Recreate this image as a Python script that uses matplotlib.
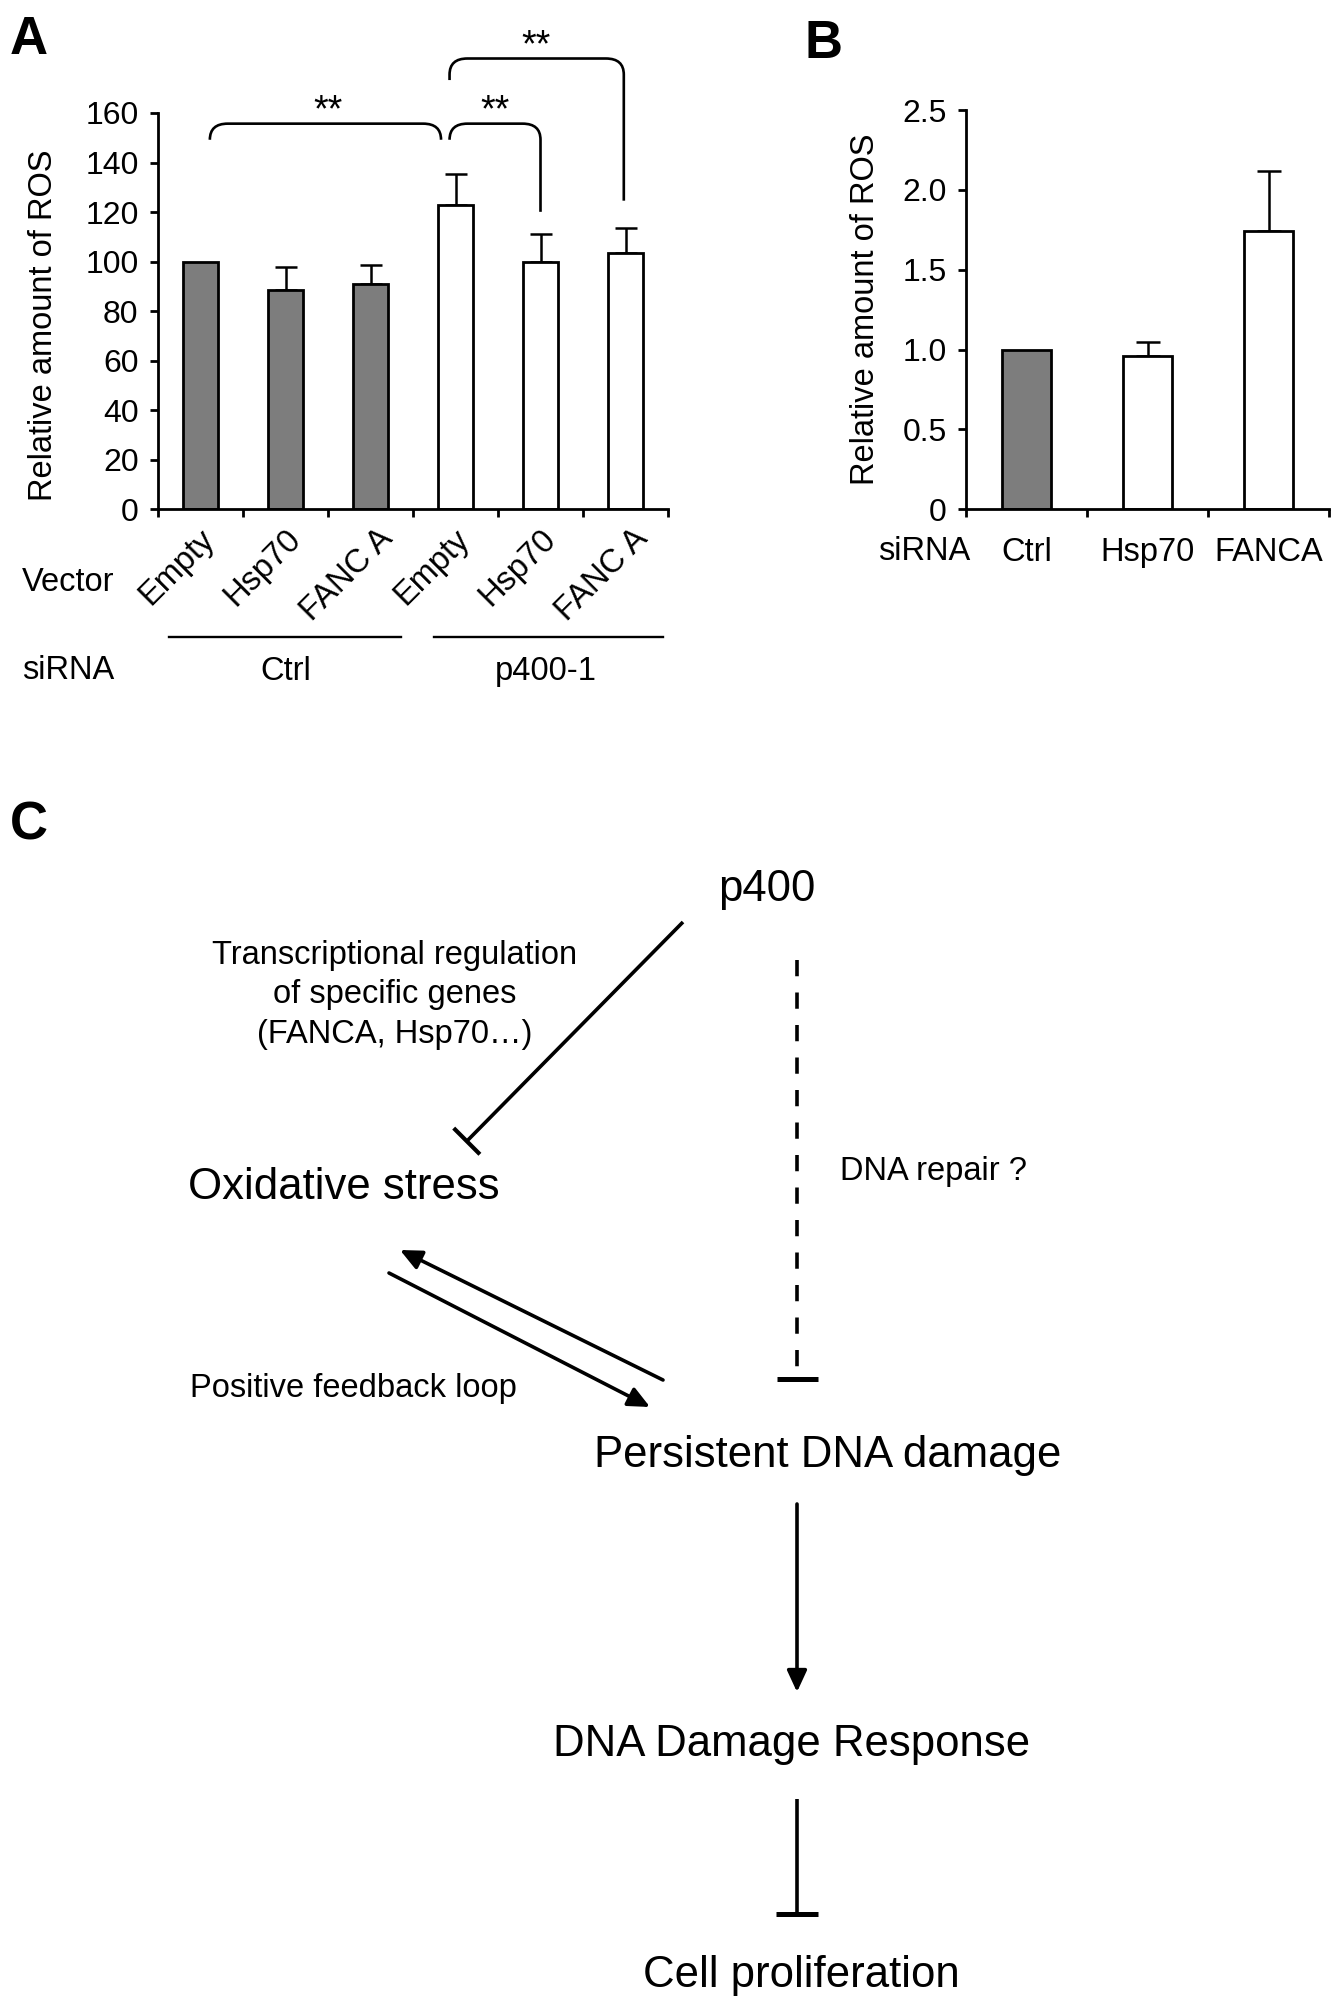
import numpy as np
import matplotlib
matplotlib.use("Agg")
import matplotlib.pyplot as plt
import matplotlib.transforms as mtransforms
from matplotlib.path import Path
from matplotlib.patches import PathPatch

plt.rcParams['font.family'] = ['Liberation Sans', 'DejaVu Sans']

# Panel A data
vectors_a = ["Empty", "Hsp70", "FANC A", "Empty", "Hsp70", "FANC A"]
ros_a = [100, 88.7, 91.0, 122.8, 100.0, 103.6]
err_a = [0, 9.0, 7.8, 12.6, 11.0, 10.0]
sirna_groups_a = ["Ctrl", "p400-1"]

# Panel B data
sirna_b = ["Ctrl", "Hsp70", "FANCA"]
ros_b = [1.0, 0.96, 1.74]
err_b = [0, 0.09, 0.38]

# significance brackets (x_left, y_left, x_right, y_right, y_top, x_star)
brackets = [
    (0.11, 149.2, 2.83, 149.2, 155.7, 1.50),
    (2.93, 149.2, 4.00, 120.1, 155.7, 3.46),
    (2.93, 173.3, 4.98, 124.6, 182.0, 3.95),
]

GRAY = '#7d7d7d'
W, H = 1343, 2000
fig = plt.figure(figsize=(W / 100, H / 100), dpi=100)

# overlay axes in pixel coordinates for labels and the diagram
ov = fig.add_axes([0, 0, 1, 1])
ov.set_xlim(0, W)
ov.set_ylim(H, 0)
ov.axis('off')


def px_axes(left, top, right, bottom):
    return fig.add_axes([left / W, 1 - bottom / H, (right - left) / W, (bottom - top) / H])


def style_axes(ax, n):
    for s in ['top', 'right']:
        ax.spines[s].set_visible(False)
    for s in ['left', 'bottom']:
        ax.spines[s].set_linewidth(2.0)
    ax.set_xlim(-0.5, n - 0.5)
    ax.set_xticks(np.arange(n + 1) - 0.5)
    ax.set_xticklabels([])
    ax.tick_params(axis='both', which='major', direction='out', length=6, width=2.0,
                   labelsize=23, pad=8)
    ax.set_facecolor('none')


# ---------------- Panel A ----------------
axA = px_axes(158, 113, 668, 509.3)
style_axes(axA, len(ros_a))
xa = np.arange(len(ros_a))
cols_a = [GRAY] * 3 + ['white'] * 3
axA.bar(xa, ros_a, width=0.42, color=cols_a, edgecolor='black', linewidth=2.0, zorder=2)
axA.errorbar(xa[1:], ros_a[1:], yerr=[np.zeros(5), err_a[1:]], fmt='none', ecolor='black',
             elinewidth=1.8, capsize=8, capthick=1.8, zorder=1)
axA.set_ylim(0, 160)
axA.set_yticks(np.arange(0, 161, 20))
axA.set_ylabel("Relative amount of ROS", fontsize=23.5)
axA.yaxis.set_label_coords(-0.194, 0.465)

trans = axA.get_xaxis_transform() + mtransforms.ScaledTranslation(-0.23, -0.14, fig.dpi_scale_trans)
for i, lab in enumerate(vectors_a):
    axA.text(xa[i], 0, lab, transform=trans, rotation=45, ha='center', va='top', fontsize=23.5)

rx, ry = 0.21, 6.5
for xl, yl, xr, yr, yt, xs in brackets:
    verts = [(xl, yl), (xl, max(yl, yt - ry)), (xl, yt), (xl + rx, yt),
             (xr - rx, yt), (xr, yt), (xr, yt - ry), (xr, yr)]
    codes = [Path.MOVETO, Path.LINETO, Path.CURVE3, Path.CURVE3,
             Path.LINETO, Path.CURVE3, Path.CURVE3, Path.LINETO]
    axA.add_patch(PathPatch(Path(verts, codes), fill=False, lw=1.9, color='black', clip_on=False))
    axA.text(xs, yt + 1.0, "**", ha='center', va='baseline', fontsize=27, clip_on=False)

ov.text(22, 591, "Vector", fontsize=23.5, ha='left', va='baseline')
ov.text(22, 679, "siRNA", fontsize=23.5, ha='left', va='baseline')
ov.plot([169, 401], [637, 637], color='black', lw=1.7)
ov.plot([434, 663], [637, 637], color='black', lw=1.7)
ov.text(285.5, 680, sirna_groups_a[0], fontsize=23.5, ha='center', va='baseline')
ov.text(546, 680, sirna_groups_a[1], fontsize=23.5, ha='center', va='baseline')

# ---------------- Panel B ----------------
axB = px_axes(966, 110, 1329, 509.3)
style_axes(axB, len(ros_b))
xb = np.arange(len(ros_b))
axB.bar(xb, ros_b, width=0.41, color=[GRAY, 'white', 'white'], edgecolor='black',
        linewidth=2.0, zorder=2)
axB.errorbar(xb[1:], ros_b[1:], yerr=[np.zeros(2), err_b[1:]], fmt='none', ecolor='black',
             elinewidth=1.8, capsize=8.5, capthick=1.8, zorder=1)
axB.set_ylim(0, 2.5)
axB.set_yticks([0, 0.5, 1.0, 1.5, 2.0, 2.5])
axB.set_yticklabels(["0", "0.5", "1.0", "1.5", "2.0", "2.5"])
axB.set_ylabel("Relative amount of ROS", fontsize=23.5)
axB.yaxis.set_label_coords(-0.234, 0.5)
axB.set_xticks(xb, minor=True)
axB.set_xticklabels(sirna_b, minor=True, fontsize=23.5)
axB.tick_params(axis='x', which='minor', length=0, pad=20)
ov.text(878, 560, "siRNA", fontsize=23.5, ha='left', va='baseline')

# panel letters
ov.text(10, 54, "A", fontsize=38, fontweight='bold', ha='left', va='baseline')
ov.text(805, 58, "B", fontsize=38, fontweight='bold', ha='left', va='baseline')
ov.text(10, 840, "C", fontsize=38, fontweight='bold', ha='left', va='baseline')

# ---------------- Panel C diagram ----------------
big = 31.5
small = 23.5
ov.text(767, 901, "p400", fontsize=big, ha='center', va='baseline')
ov.text(343.6, 1199, "Oxidative stress", fontsize=big, ha='center', va='baseline')
ov.text(827.5, 1467, "Persistent DNA damage", fontsize=big, ha='center', va='baseline')
ov.text(791.5, 1756, "DNA Damage Response", fontsize=big, ha='center', va='baseline')
ov.text(801, 1987, "Cell proliferation", fontsize=big, ha='center', va='baseline')

for yb, line in zip([964, 1003, 1043],
                    ["Transcriptional regulation", "of specific genes", "(FANCA, Hsp70\u2026)"]):
    ov.text(395, yb, line, fontsize=small, ha='center', va='baseline')
ov.text(840, 1180, "DNA repair ?", fontsize=small, ha='left', va='baseline')
ov.text(190, 1397, "Positive feedback loop", fontsize=small, ha='left', va='baseline')

lw = 2.6
# p400 -| oxidative stress
ov.plot([683, 466.8], [922, 1141.2], color='black', lw=lw, solid_capstyle='butt')
ov.plot([453.7, 479.9], [1128.1, 1154.3], color='black', lw=lw + 0.4, solid_capstyle='butt')
# dashed p400 -| DNA damage
ov.plot([797, 797], [960, 1379], color='black', lw=lw, linestyle=(0, (4.5, 4.5)))
ov.plot([777, 818], [1379, 1379], color='black', lw=lw + 1, solid_capstyle='butt')

arrow_kw = dict(arrowstyle='-|>,head_length=1.3,head_width=0.6', lw=lw, color='black',
                shrinkA=0, shrinkB=0)
ov.annotate('', xy=(400, 1250), xytext=(663, 1380), arrowprops=arrow_kw)
ov.annotate('', xy=(650, 1407), xytext=(389, 1273), arrowprops=arrow_kw)
ov.annotate('', xy=(797, 1692), xytext=(797, 1504), arrowprops=arrow_kw)

# DDR -| cell proliferation
ov.plot([797, 797], [1799, 1914], color='black', lw=lw, solid_capstyle='butt')
ov.plot([776, 818], [1914, 1914], color='black', lw=lw + 1, solid_capstyle='butt')

fig.savefig("out.png", dpi=100)
